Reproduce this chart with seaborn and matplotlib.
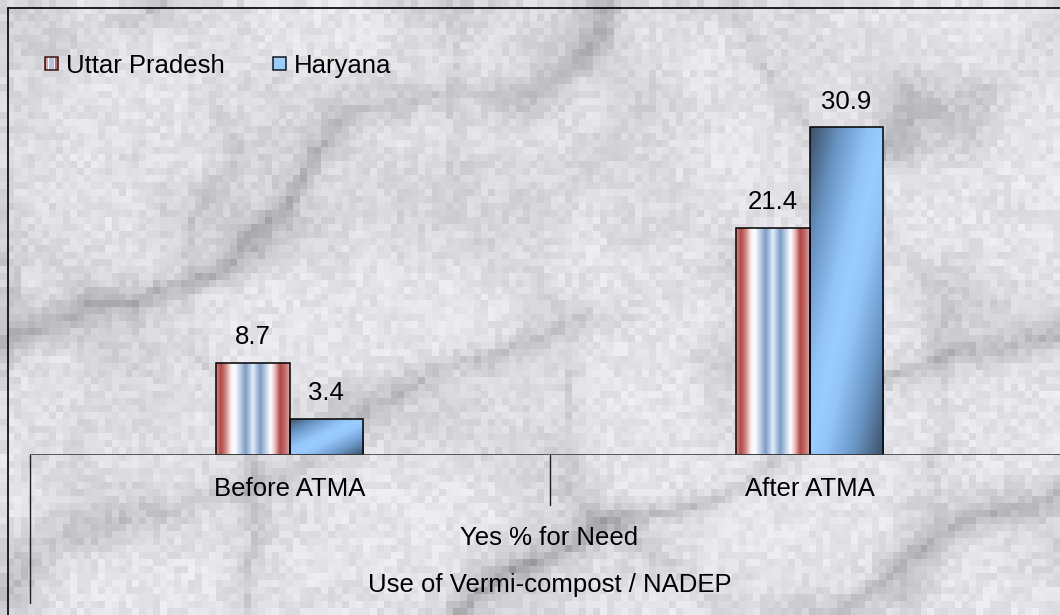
import numpy as np
import pandas as pd
import matplotlib
matplotlib.use("Agg")
import matplotlib.pyplot as plt
import seaborn as sns
from matplotlib.colors import LinearSegmentedColormap
from matplotlib.patches import Rectangle, Patch
from matplotlib.lines import Line2D
from matplotlib.legend_handler import HandlerBase

# ---- data -------------------------------------------------------------
periods = ["Before ATMA", "After ATMA"]
states = ["Uttar Pradesh", "Haryana"]
up_values = [8.7, 21.4]
haryana_values = [3.4, 30.9]
group_label = "Yes % for Need"
indicator_label = "Use of Vermi-compost / NADEP"

df = pd.DataFrame({
    "period": periods * 2,
    "state": [states[0]] * len(periods) + [states[1]] * len(periods),
    "value": up_values + haryana_values,
})

# ---- fills ------------------------------------------------------------
up_cmap = LinearSegmentedColormap.from_list("up_stripes", [
    (0.00, "#d89090"), (0.06, "#b04644"), (0.13, "#d08886"), (0.20, "#f6eeee"),
    (0.25, "#ffffff"), (0.32, "#c4d4e8"), (0.40, "#7e9cc6"), (0.46, "#b8cce4"),
    (0.50, "#e4eef8"), (0.54, "#b8cce4"), (0.60, "#7e9cc6"), (0.68, "#c4d4e8"),
    (0.74, "#ffffff"), (0.80, "#e8bcbc"), (0.87, "#b04644"), (0.94, "#c46e6c"),
    (1.00, "#e0a8a8"),
])
hr_cmap = LinearSegmentedColormap.from_list("hr_diag", [
    (0.00, "#3b4f66"), (0.20, "#6893c2"), (0.40, "#92c4f8"), (0.50, "#99ccff"),
    (0.60, "#92c4f8"), (0.80, "#6893c2"), (1.00, "#3b4f66"),
])


def up_fill():
    return up_cmap(np.linspace(0, 1, 300))[None, :, :3]


def hr_fill():
    yn = np.linspace(0, 1, 200)[:, None]
    xn = np.linspace(0, 1, 200)[None, :]
    return hr_cmap((xn + yn) / 2)[:, :, :3]


# ---- marble backdrop --------------------------------------------------
def smooth_noise(rng, h, w, cy, cx):
    grid = rng.random((cy + 2, cx + 2))
    ys = np.linspace(0, cy, h, endpoint=False)
    xs = np.linspace(0, cx, w, endpoint=False)
    y0 = ys.astype(int)
    x0 = xs.astype(int)
    fy = ys - y0
    fx = xs - x0
    fy = fy * fy * (3 - 2 * fy)
    fx = fx * fx * (3 - 2 * fx)
    g00 = grid[np.ix_(y0, x0)]
    g01 = grid[np.ix_(y0, x0 + 1)]
    g10 = grid[np.ix_(y0 + 1, x0)]
    g11 = grid[np.ix_(y0 + 1, x0 + 1)]
    top = g00 + (g01 - g00) * fx[None, :]
    bot = g10 + (g11 - g10) * fx[None, :]
    return top + (bot - top) * fy[:, None]


def turbulence(rng, h, w, octaves=6, base=(2, 3)):
    total = sum(smooth_noise(rng, h, w, base[0] * 2 ** o, base[1] * 2 ** o) / 2 ** o
                for o in range(octaves))
    return total / sum(1 / 2 ** o for o in range(octaves))


def marble(h=88, w=152, seed=5):
    rng = np.random.default_rng(seed)
    t1 = turbulence(rng, h, w)
    t2 = turbulence(rng, h, w)
    blot = turbulence(rng, h, w, octaves=4, base=(6, 10))
    mask1 = turbulence(rng, h, w, octaves=3, base=(4, 7))
    mask2 = turbulence(rng, h, w, octaves=3, base=(4, 7))
    yy, xx = np.mgrid[0:h, 0:w] / h
    v1 = (1 - np.abs(np.sin((0.55 * xx + yy) * 8 + 3.5 * t1))) ** 4
    v2 = (1 - np.abs(np.sin((xx - 0.3 * yy) * 6 + 4 * t2))) ** 6
    fine = rng.random((h, w))
    img = (0.955
           - 0.24 * v1 * np.clip(mask1 * 1.7 - 0.3, 0, 1)
           - 0.15 * v2 * np.clip(mask2 * 1.6 - 0.4, 0, 1)
           - 0.20 * np.clip(blot - 0.45, 0, 1)
           - 0.08 * fine)
    img = np.clip(img, 0.55, 0.98)
    return np.dstack([img * 0.98, img * 0.98, img])


# ---- legend swatches ----------------------------------------------------
class SwatchHandler(HandlerBase):
    def __init__(self, kind):
        super().__init__()
        self.kind = kind

    def create_artists(self, legend, orig_handle, xdescent, ydescent,
                       width, height, fontsize, trans):
        side = width
        x0 = -xdescent
        y0 = -ydescent + (height - side) / 2
        arts = []
        if self.kind == "up":
            n = 10
            cols = up_cmap(np.linspace(0.05, 0.95, n))
            for k in range(n):
                arts.append(Rectangle((x0 + k * side / n, y0), side / n, side,
                                      facecolor=cols[k], edgecolor="none",
                                      transform=trans))
            arts.append(Rectangle((x0, y0), side, side, facecolor="none",
                                  edgecolor="#3a1010", lw=1.1, transform=trans))
        else:
            arts.append(Rectangle((x0, y0), side, side, facecolor="#99ccff",
                                  edgecolor="#101820", lw=1.1, transform=trans))
        return arts


# ---- figure -----------------------------------------------------------
sns.set_theme(style="white")
plt.rcParams["font.family"] = ["Liberation Sans", "DejaVu Sans"]
plt.rcParams["text.color"] = "black"

W, H = 1060, 615
FS = 18.5
fig = plt.figure(figsize=(W / 100, H / 100), dpi=100)

bg = fig.add_axes([0, 0, 1, 1], zorder=0)
bg.imshow(marble(), aspect="auto", interpolation="nearest")
bg.axis("off")

px_per_unit = 10.6
ax_left, ax_right, ax_base, ax_top = 29.5, 1069.5, 455, 8
ax = fig.add_axes([ax_left / W, (H - ax_base) / H,
                   (ax_right - ax_left) / W, (ax_base - ax_top) / H], zorder=1)
ax.patch.set_alpha(0)

sns.barplot(data=df, x="period", y="value", hue="state", order=periods,
            hue_order=states, palette=["#c06060", "#99ccff"], width=0.2827,
            saturation=1, edgecolor="black", linewidth=1.1, errorbar=None,
            legend=False, ax=ax)

fills = [up_fill(), hr_fill()]
for i, cont in enumerate(ax.containers):
    for bar in cont:
        x0, y0 = bar.get_x(), bar.get_y()
        w, h = bar.get_width(), bar.get_height()
        im = ax.imshow(fills[i], extent=[x0, x0 + w, y0, y0 + h],
                       aspect="auto", interpolation="bilinear", zorder=1.5)
        im.set_clip_path(bar)
        bar.set_facecolor("none")
        bar.set_zorder(2)
    ax.bar_label(cont, fmt="%.1f", padding=10, fontsize=FS, color="black")

ax.set_xlim(-0.5, 1.5)
ax.set_ylim(0, (ax_base - ax_top) / px_per_unit)
for s in ax.spines.values():
    s.set_visible(False)
ax.set_yticks([])
ax.set_xlabel("")
ax.set_ylabel("")
ax.tick_params(axis="x", length=0, pad=15.5, labelsize=FS, labelcolor="black")

# category axis line and dividers
ax_h = ax_base - ax_top
ax.axhline(0, color="#404040", lw=1.2, zorder=3)
xt = ax.get_xaxis_transform()
ax.plot([-0.5, -0.5], [0, -148 / ax_h], transform=xt, clip_on=False,
        color="#202020", lw=1.0)
ax.plot([0.5, 0.5], [0, -50 / ax_h], transform=xt, clip_on=False,
        color="#202020", lw=1.0)
ax.text(0.5, -(545 - ax_base) / ax_h, group_label, transform=ax.transAxes,
        ha="center", va="baseline", fontsize=FS, color="black")
ax.text(0.5, -(592 - ax_base) / ax_h, indicator_label, transform=ax.transAxes,
        ha="center", va="baseline", fontsize=FS, color="black")

# legend
handles = [Patch(label=states[0]), Patch(label=states[1])]
ax.legend(handles=handles, handler_map={handles[0]: SwatchHandler("up"),
                                        handles[1]: SwatchHandler("hr")},
          loc="center left", bbox_to_anchor=(45 / W, (H - 66) / H),
          bbox_transform=fig.transFigure, ncol=2, frameon=False,
          borderpad=0, borderaxespad=0, handlelength=13 / (FS * 100 / 72),
          handleheight=13 / (FS * 100 / 72), handletextpad=0.33,
          columnspacing=1.85, fontsize=FS, labelcolor="black")

# chart-area border (top and left edges)
fig.add_artist(Line2D([8 / W, 8 / W], [0, (H - 8) / H], transform=fig.transFigure,
                      color="black", lw=1.2))
fig.add_artist(Line2D([8 / W, 1], [(H - 8) / H, (H - 8) / H],
                      transform=fig.transFigure, color="black", lw=1.2))

fig.savefig("out.png", dpi=100)
